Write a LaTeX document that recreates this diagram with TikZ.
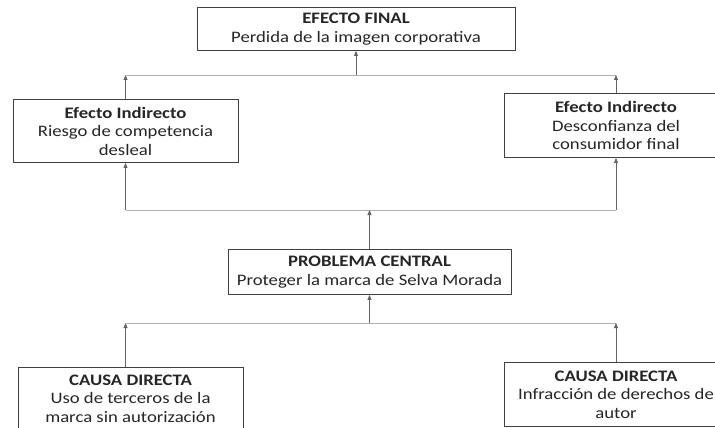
\documentclass[tikz,border=0pt]{standalone}
\usepackage{fontspec}
\setmainfont{Carlito}[FakeStretch=1.17]
\usetikzlibrary{arrows.meta}
\begin{document}
\begin{tikzpicture}[x=1pt,y=-1pt,
  box/.style={draw=black!75,line width=0.9pt,fill=white,anchor=north,align=center,
    font=\fontsize{16}{18.5}\selectfont,inner sep=1pt,text=black!85},
  hline/.style={draw=black!30,line width=0.8pt},
  vline/.style={draw=black!60,line width=0.8pt},
  arr/.style={vline,-{Triangle[length=5pt,width=4pt]}}]
\useasboundingbox (0,0) rectangle (715,428);
\clip (0,0) rectangle (715,428);
\node[box,minimum width=318pt,minimum height=43pt] (ef) at (356,7) {\textbf{EFECTO FINAL}\\Perdida de la imagen corporativa};
\node[box,minimum width=225pt,minimum height=63pt] (ei1) at (125.5,99) {\textbf{Efecto Indirecto}\\Riesgo de competencia\\desleal};
\node[box,minimum width=224pt,minimum height=64pt] (ei2) at (616,93) {\textbf{Efecto Indirecto}\\Desconfianza del\\consumidor final};
\node[box,minimum width=283pt,minimum height=45pt] (pc) at (369.5,249) {\textbf{PROBLEMA CENTRAL}\\Proteger la marca de Selva Morada};
\node[box,minimum width=225pt,minimum height=62pt] (cd1) at (130.5,367) {\textbf{CAUSA DIRECTA}\\Uso de terceros de la\\marca sin autorización};
\node[box,minimum width=224pt,minimum height=64pt] (cd2) at (616,362) {\textbf{CAUSA DIRECTA}\\Infracción de derechos de\\autor};
\coordinate (j1) at (356,75);
\coordinate (j2) at (369.5,210);
\coordinate (j3) at (369.5,323);
% top level
\draw[hline] (ei1.north |- j1) -- (ei2.north |- j1);
\draw[arr] (j1) -- (ef.south);
\draw[arr] (ei1.north) -- (ei1.north |- j1);
\draw[arr] (ei2.north) -- (ei2.north |- j1);
% middle level
\draw[hline] (ei1.south |- j2) -- (ei2.south |- j2);
\draw[arr] (pc.north) -- (j2);
\draw[arr] (ei1.south |- j2) -- (ei1.south);
\draw[arr] (ei2.south |- j2) -- (ei2.south);
% bottom level
\draw[hline] (ei1.south |- j3) -- (ei2.south |- j3);
\draw[arr] (j3) -- (pc.south);
\draw[arr] (ei1.south |- cd1.north) -- (ei1.south |- j3);
\draw[arr] (cd2.north) -- (cd2.north |- j3);
\end{tikzpicture}
\end{document}
